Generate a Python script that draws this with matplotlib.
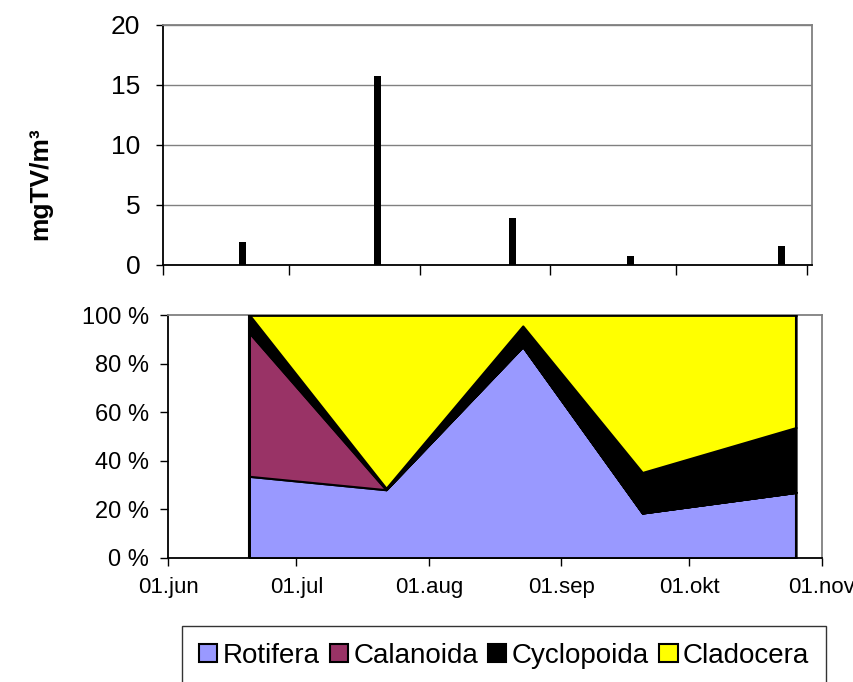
import matplotlib
matplotlib.use("Agg")
import matplotlib.pyplot as plt
import matplotlib.dates as mdates
import numpy as np
from datetime import datetime

plt.rcParams['font.family'] = ['Liberation Sans', 'DejaVu Sans']

# ---- data ----
dates = ["2000-06-20", "2000-07-22", "2000-08-23", "2000-09-20", "2000-10-26"]
biomass = [1.88, 15.72, 3.86, 0.74, 1.57]          # mgTV/m3
rotifera   = [33.6, 28.1, 87.0, 18.5, 27.0]        # %
calanoida  = [59.0, 0.0, 0.0, 0.0, 0.0]
cyclopoida = [7.4, 0.6, 8.5, 16.7, 26.7]
cladocera  = [0.0, 71.3, 4.5, 64.8, 46.3]
series_names = ["Rotifera", "Calanoida", "Cyclopoida", "Cladocera"]
series_colors = ["#9999FF", "#993366", "#000000", "#FFFF00"]
month_labels = ["01.jun", "01.jul", "01.aug", "01.sep", "01.okt", "01.nov"]
month_ticks = ["2000-06-01", "2000-07-01", "2000-08-01", "2000-09-01", "2000-10-01", "2000-11-01"]
y_top_ticks = [0, 5, 10, 15, 20]
y_bot_ticks = [0, 20, 40, 60, 80, 100]

d = [datetime.fromisoformat(s) for s in dates]
mt = [datetime.fromisoformat(s) for s in month_ticks]
xd = mdates.date2num(d)
xm = mdates.date2num(mt)

W, H = 854, 682
fig = plt.figure(figsize=(W / 100, H / 100), dpi=100)

def frame(ax):
    for s in ["left", "bottom"]:
        ax.spines[s].set_color("black")
        ax.spines[s].set_linewidth(1.3)
    for s in ["top", "right"]:
        ax.spines[s].set_color("#808080")
        ax.spines[s].set_linewidth(1.3)
    ax.tick_params(direction="out", length=6, width=1.0, color="black")

# ---- top panel ----
ax1 = fig.add_axes([162.7 / W, 1 - 264.7 / H, (812 - 162.7) / W, (264.7 - 25) / H])
ax1.bar(xd, biomass, width=1.7, color="black", zorder=3)
ax1.set_ylim(0, 20)
ax1.set_yticks(y_top_ticks)
ax1.set_yticklabels([str(v) for v in y_top_ticks], fontsize=19)
ax1.set_xticks(xm)
ax1.set_xticklabels([])
ax1.set_xlim(xm[0], xm[-1] + 1.2)
ax1.yaxis.grid(True, color="#808080", linewidth=1.0)
ax1.set_axisbelow(True)
frame(ax1)
ax1.tick_params(axis="x", length=7)
ax1.tick_params(axis="y", length=5, pad=11)

# ---- bottom panel ----
ax2 = fig.add_axes([168.3 / W, 1 - 558 / H, (821.7 - 168.3) / W, (558 - 315) / H])
ax2.stackplot(xd, rotifera, calanoida, cyclopoida, cladocera,
              colors=series_colors, edgecolor="black", linewidth=1.5,
              labels=series_names, zorder=2)
ax2.plot([xd[0], xd[0]], [0, 100], color="black", lw=1.5, zorder=3)
ax2.plot([xd[-1], xd[-1]], [0, 100], color="black", lw=1.5, zorder=3)
ax2.plot([xd[0], xd[-1]], [100, 100], color="black", lw=1.8, zorder=3)
ax2.set_ylim(0, 100)
ax2.set_xlim(xm[0], xm[-1])
ax2.set_yticks(y_bot_ticks)
ax2.set_yticklabels([f"{v} %" for v in y_bot_ticks], fontsize=17)
ax2.set_xticks(xm)
ax2.set_xticklabels(month_labels, fontsize=16)
frame(ax2)
ax2.tick_params(axis="x", pad=8)
ax2.tick_params(axis="y", pad=8)

fig.text(40 / W, 1 - 184 / H, "mgTV/m³", rotation=90, fontsize=19,
         fontweight="bold", ha="center", va="center")

handles, labels = ax2.get_legend_handles_labels()
leg = fig.legend(handles, labels, loc="upper left",
                 bbox_to_anchor=(182 / W, -0.05, (826 - 182) / W, 1 - 626 / H + 0.05),
                 mode="expand", ncol=4, fontsize=20, frameon=True, fancybox=False,
                 edgecolor="black", handlelength=0.65, handleheight=0.65,
                 handletextpad=0.2, columnspacing=0.35, borderpad=0.6,
                 borderaxespad=0)
leg.get_frame().set_linewidth(1.0)

fig.savefig("out.png", dpi=100)
